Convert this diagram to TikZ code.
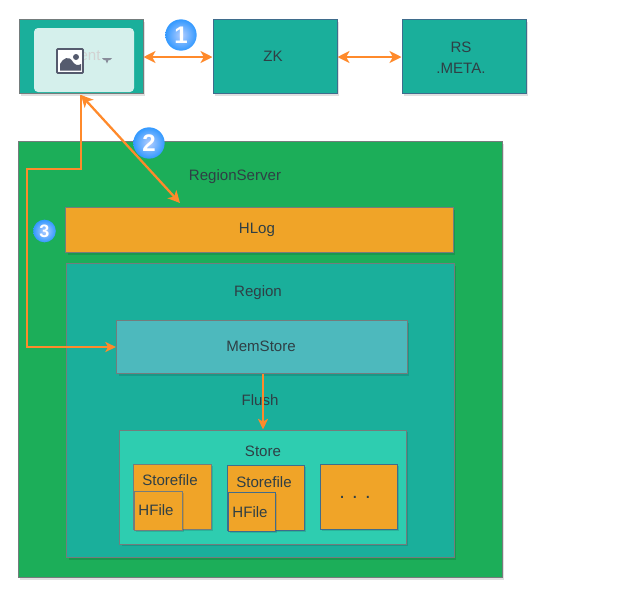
\documentclass[tikz,border=0pt]{standalone}
\usepackage{fontspec}
\setmainfont{Liberation Sans}
\usetikzlibrary{arrows.meta,calc}
\definecolor{teal1}{HTML}{1AAF9B}
\definecolor{green1}{HTML}{1CAE59}
\definecolor{orange1}{HTML}{F0A428}
\definecolor{memc}{HTML}{4DB9BD}
\definecolor{storec}{HTML}{2ECDB0}
\definecolor{linec}{HTML}{FF8A2B}
\definecolor{txt}{HTML}{2F3F45}
\definecolor{bordg}{HTML}{747C7C}
\definecolor{bordb}{HTML}{3F6C8C}
\definecolor{iconc}{HTML}{555B6E}
\tikzset{
  px/.style={x=0.75pt,y=-0.75pt},
  boxx/.style={rectangle,draw=bordg,line width=0.75pt,inner sep=0pt,text=txt},
  conn/.style={draw=linec,line width=1.7pt},
  both/.style={conn,{Stealth[length=9pt,width=9pt,inset=2.5pt]}-{Stealth[length=9pt,width=9pt,inset=2.5pt]}},
  one/.style={conn,-{Stealth[length=8pt,width=7.5pt,inset=2pt]}},
  lab/.style={text=txt,font=\fontsize{11.3}{14}\selectfont,inner sep=0pt},
  badge/.style={circle,inner sep=0pt,inner color=cyan!35!blue!30!white,outer color=blue!50!cyan!80!white,text=white},
}
\newcommand{\mkbox}[7]{%
  \fill[black,opacity=0.12] (#3+2,#4+2) rectangle (#5+2,#6+2);
  \node[boxx,#2,minimum width={(#5-#3)*0.75pt},minimum height={(#6-#4)*0.75pt}] (#1) at ({(#3+#5)/2},{(#4+#6)/2}) {#7};
}
\begin{document}
\begin{tikzpicture}[px]
\useasboundingbox (0,0) rectangle (628,594);
% top row
\mkbox{client}{fill=teal1}{19}{19.5}{143}{93.5}{}
\node[fill=white,fill opacity=0.82,rounded corners=3pt,minimum width=75pt,minimum height=48pt,inner sep=0pt] (card) at (84,60) {};
\node[text=gray!35,font=\fontsize{11.3}{13}\selectfont,inner sep=0pt] (ent) at (90,56) {ent};
\draw[draw=iconc,line width=1.3pt,fill=white,rounded corners=0.6pt] (57,49) rectangle (83,73);
\fill[iconc] (60,70.5) -- (60,64) .. controls (63,58) and (69,55) .. (73,62) .. controls (75,65) and (78,66) .. (81,64) -- (81,70.5) -- cycle;
\fill[iconc] (76,57) circle (3);
\fill[iconc!70!white] (102,58) -- (112,58) -- (110,60) -- (108.5,60) -- (107,63.5) -- (105.5,60) -- (104,60) -- cycle;
\mkbox{zk}{fill=teal1,draw=bordb}{213}{19.5}{337}{93.5}{}
\node[lab] (zklab) at (273,56) {ZK};
\mkbox{rs}{fill=teal1,draw=bordb}{402}{19.5}{526}{93.5}{}
\node[lab] (rslab1) at (461,47) {RS};
\node[lab] (rslab2) at (461,68) {.META.};
% region server
\mkbox{regsrv}{fill=green1}{18}{141.5}{502}{577.5}{}
\node[lab] (rslab) at (235,177) {RegionServer};
\mkbox{hlog}{fill=orange1}{65.5}{207.5}{453}{252.5}{}
\node[lab] (hloglab) at (257,230) {HLog};
\mkbox{region}{fill=teal1}{66.5}{263.5}{454}{557.5}{}
\node[lab] (reglab) at (258,293) {Region};
\mkbox{mem}{fill=memc}{116.5}{320.5}{407}{373.5}{}
\node[lab] (memlab) at (261,346) {MemStore};
\node[lab] (flushlab) at (260,400) {Flush};
\mkbox{store}{fill=storec}{119.5}{430}{406}{544}{}
\node[lab] (storelab) at (263,451) {Store};
\mkbox{sf1}{fill=orange1}{133}{464}{211}{529}{}
\node[lab] (sf1lab) at (170,480) {Storefile};
\mkbox{hf1}{fill=orange1}{134}{491}{182}{530}{}
\node[lab] (hf1lab) at (156,510) {HFile};
\mkbox{sf2}{fill=orange1,draw=bordb}{227}{465}{304}{530}{}
\node[lab] (sf2lab) at (264,482) {Storefile};
\mkbox{hf2}{fill=orange1,draw=bordb}{228}{492}{275}{531}{}
\node[lab] (hf2lab) at (250,512) {HFile};
\mkbox{dots}{fill=orange1,draw=bordb}{320}{464}{397}{529}{}
\node[lab,font=\fontsize{15}{15}\selectfont] (dotslab) at (355,497) {. . .};
% connectors
\coordinate (c1) at (143,57);
\coordinate (z1) at (213,57);
\coordinate (z2) at (337,57);
\coordinate (r1) at (402,57);
\draw[both] (client.east |- c1) -- (zk.west |- z1);
\draw[both] (zk.east |- z2) -- (rs.west |- r1);
\coordinate (ctop) at (81,95);
\coordinate (hl) at (180,203);
\coordinate (b1) at (81,169);
\coordinate (b2) at (27,169);
\coordinate (b3) at (27,347);
\draw[both] (ctop) -- (hl);
\draw[one] (ctop) -- (b1) -- (b2) -- (b3) -- (mem.west |- b3);
\coordinate (fl) at (263,374);
\draw[one] (mem.south -| fl) -- (store.north -| fl);
% badges
\node[badge,minimum size=23.5pt,font=\fontsize{18}{18}\bfseries\selectfont] (b-one) at (181,35) {1};
\node[badge,minimum size=23.5pt,font=\fontsize{18}{18}\bfseries\selectfont] (b-two) at (149,143) {2};
\node[badge,minimum size=17pt,font=\fontsize{13.5}{13.5}\bfseries\selectfont] (b-three) at (44.5,231) {3};
\end{tikzpicture}
\end{document}
